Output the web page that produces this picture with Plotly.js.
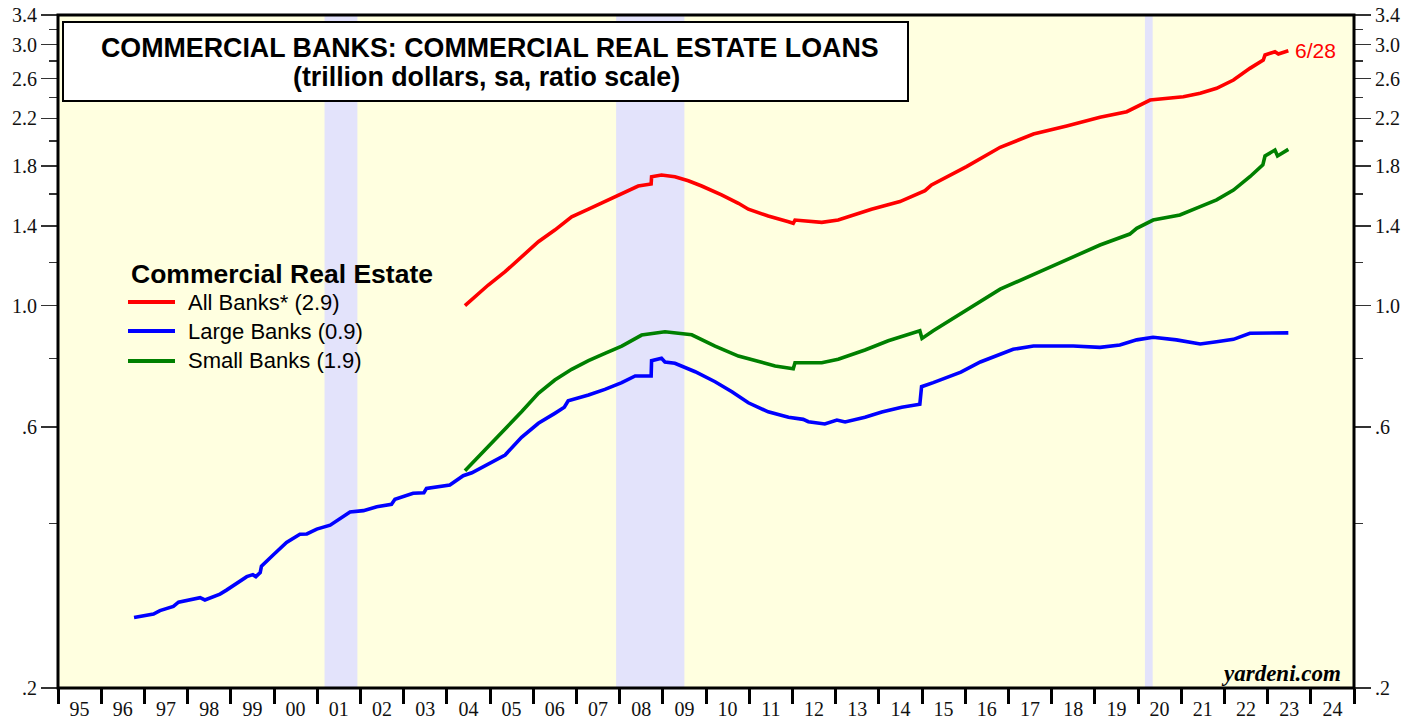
<!DOCTYPE html>
<html>
<head>
<meta charset="utf-8">
<script src="https://cdn.plot.ly/plotly-3.0.1.min.js"></script>
<style>
  html, body { margin: 0; padding: 0; background: #ffffff; }
  #chart { width: 1419px; height: 719px; }
</style>
</head>
<body>
<div id="chart"></div>
<script>
// ---- Data (trillion dollars) ----
const allBanksX = [2004.42,2004.96,2005.35,2005.73,2006.12,2006.50,2006.74,2006.89,2007.28,2007.66,2008.05,2008.43,2008.73,2008.74,2008.97,2009.28,2009.59,2009.90,2010.36,2010.75,2010.98,2011.44,2011.91,2012.02,2012.06,2012.68,2013.06,2013.83,2014.49,2015.07,2015.22,2016.03,2016.81,2017.58,2018.35,2019.12,2019.74,2020.28,2021.05,2021.44,2021.82,2022.21,2022.59,2022.90,2022.94,2023.17,2023.25,2023.48];
const allBanksY = [1.000,1.091,1.154,1.229,1.309,1.375,1.424,1.454,1.501,1.549,1.605,1.655,1.669,1.721,1.734,1.721,1.692,1.655,1.594,1.539,1.501,1.459,1.424,1.415,1.434,1.420,1.434,1.501,1.550,1.623,1.663,1.796,1.948,2.060,2.131,2.211,2.263,2.377,2.410,2.445,2.497,2.586,2.716,2.813,2.873,2.913,2.885,2.925];

const largeBanksX = [1996.76,1997.00,1997.21,1997.36,1997.67,1997.79,1998.29,1998.40,1998.75,1998.90,1999.14,1999.37,1999.51,1999.58,1999.68,1999.71,1999.98,2000.29,2000.60,2000.76,2000.99,2001.30,2001.76,2002.07,2002.38,2002.72,2002.80,2003.22,2003.47,2003.53,2004.07,2004.38,2004.58,2004.96,2005.35,2005.73,2006.12,2006.50,2006.72,2006.81,2007.28,2007.66,2008.05,2008.36,2008.73,2008.74,2008.97,2009.05,2009.28,2009.75,2010.21,2010.60,2010.98,2011.44,2011.91,2012.25,2012.37,2012.75,2013.03,2013.22,2013.68,2014.07,2014.53,2014.95,2014.99,2015.26,2015.90,2016.35,2016.80,2017.11,2017.58,2018.50,2019.12,2019.58,2019.97,2020.35,2020.89,2021.44,2021.82,2022.21,2022.59,2022.98,2023.48];
const largeBanksY = [0.269,0.271,0.273,0.277,0.282,0.287,0.2925,0.2897,0.297,0.302,0.3116,0.3196,0.3223,0.3196,0.325,0.334,0.350,0.369,0.382,0.3825,0.3904,0.397,0.4196,0.422,0.429,0.4334,0.4426,0.4539,0.455,0.4635,0.470,0.4889,0.495,0.5136,0.5334,0.5745,0.6095,0.6356,0.652,0.6703,0.6866,0.7032,0.7232,0.744,0.744,0.7934,0.8014,0.7889,0.7846,0.7573,0.726,0.696,0.6645,0.6397,0.625,0.6197,0.6136,0.6077,0.618,0.6128,0.625,0.6391,0.652,0.6603,0.7111,0.7232,0.756,0.789,0.813,0.8323,0.8438,0.8438,0.839,0.8475,0.866,0.8754,0.866,0.851,0.8593,0.868,0.8902,0.892,0.892];

const smallBanksX = [2004.42,2004.96,2005.35,2005.73,2006.12,2006.50,2006.89,2007.28,2007.66,2008.05,2008.51,2009.05,2009.67,2010.21,2010.75,2011.13,2011.60,2012.02,2012.06,2012.68,2013.06,2013.68,2014.22,2014.95,2015.00,2015.26,2016.03,2016.81,2017.73,2018.35,2019.12,2019.81,2019.97,2020.35,2020.97,2021.44,2021.82,2022.21,2022.59,2022.89,2022.94,2023.17,2023.23,2023.48];
const smallBanksY = [0.4993,0.5525,0.5969,0.6397,0.6915,0.7313,0.765,0.7934,0.8183,0.8438,0.8837,0.896,0.8848,0.8438,0.8088,0.7934,0.7759,0.767,0.7866,0.7866,0.7981,0.8297,0.8628,0.900,0.8715,0.9001,0.982,1.072,1.154,1.212,1.291,1.352,1.385,1.434,1.465,1.517,1.561,1.627,1.721,1.809,1.878,1.926,1.878,1.931];

const seriesNames = ["All Banks* (2.9)", "Large Banks (0.9)", "Small Banks (1.9)"];
const seriesColors = ["#ff0000", "#0000ff", "#008000"];

// Recessions (start, end) in decimal years
const recessionStart = [2001.17, 2007.92, 2020.16];
const recessionEnd   = [2001.93, 2009.50, 2020.34];

// Axis ticks
const yTickVals = [0.2, 0.6, 1.0, 1.4, 1.8, 2.2, 2.6, 3.0, 3.4];
const yTickText = [".2", ".6", "1.0", "1.4", "1.8", "2.2", "2.6", "3.0", "3.4"];
const yMinorVals = [0.4, 0.8, 1.2, 1.6, 2.0, 2.4, 2.8, 3.2];
const yearLabels = ["95","96","97","98","99","00","01","02","03","04","05","06","07","08","09","10","11","12","13","14","15","16","17","18","19","20","21","22","23","24"];
const firstYear = 1995;

const lastDateLabel = "6/28";
const titleLine1 = "COMMERCIAL BANKS: COMMERCIAL REAL ESTATE LOANS";
const titleLine2 = "(trillion dollars, sa, ratio scale)";
const legendTitle = "Commercial Real Estate";
const sourceText = "yardeni.com";

// ---- Build ----
const xLabelVals = yearLabels.map((_, i) => firstYear + i + 0.5);
const xMinorVals = yearLabels.map((_, i) => firstYear + i).concat([firstYear + yearLabels.length]);
const seriesX = [allBanksX, largeBanksX, smallBanksX];
const seriesY = [allBanksY, largeBanksY, smallBanksY];

const lineW = 3.6;
const traces = seriesNames.map((n, i) => ({
  x: seriesX[i], y: seriesY[i], name: n, mode: 'lines', line: {color: seriesColors[i], width: lineW}, showlegend: false
}));
// same series referenced on the right-hand axis (invisible) so that axis is drawn
traces.push({x: allBanksX, y: allBanksY, yaxis: 'y2', mode: 'lines', showlegend: false, hoverinfo: 'skip', line: {color: 'rgba(0,0,0,0)', width: 0}});

const yRange = [Math.log10(0.2), Math.log10(3.4)];
const tickFont = {family: 'Liberation Serif, Times New Roman, serif', size: 20, color: '#111'};
const sans = 'Liberation Sans, Arial, sans-serif';

const yAxisCommon = {
  type: 'log', range: yRange, tickmode: 'array', tickvals: yTickVals, ticktext: yTickText,
  ticks: 'outside', ticklen: 16, tickwidth: 1.5, tickcolor: '#333',
  minor: {tickmode: 'array', tickvals: yMinorVals, ticks: 'outside', ticklen: 8, tickwidth: 1.5, tickcolor: '#333', showgrid: false},
  showgrid: false, zeroline: false, showline: false, tickfont: tickFont, fixedrange: true
};

// pixel helpers for paper coordinates (plot area 58..1354 x 15..688)
const px = x => (x - 58) / 1296;
const py = y => (688 - y) / 673;

const shapes = [];
for (let i = 0; i < recessionStart.length; i++) {
  shapes.push({type: 'rect', xref: 'x', yref: 'paper', x0: recessionStart[i], x1: recessionEnd[i], y0: 0, y1: 1,
    fillcolor: '#e3e3fb', line: {width: 0}, layer: 'below'});
}
// frame
shapes.push({type: 'rect', xref: 'paper', yref: 'paper', x0: 0, x1: 1, y0: 0, y1: 1, line: {color: '#000', width: 3}, fillcolor: 'rgba(0,0,0,0)', layer: 'above'});
// title box
shapes.push({type: 'rect', xref: 'paper', yref: 'paper', x0: px(63), x1: px(908), y0: py(101), y1: py(22), line: {color: '#000', width: 2}, fillcolor: '#ffffff', layer: 'above'});

const annotations = [
  {xref: 'paper', yref: 'paper', x: px(490), y: py(48), xanchor: 'center', yanchor: 'middle', showarrow: false,
   text: '<b>' + titleLine1 + '</b>', font: {family: sans, size: 26.8, color: '#000'}},
  {xref: 'paper', yref: 'paper', x: px(486), y: py(77), xanchor: 'center', yanchor: 'middle', showarrow: false,
   text: '<b>' + titleLine2 + '</b>', font: {family: sans, size: 26.8, color: '#000'}},
  {xref: 'x', yref: 'y', x: allBanksX[allBanksX.length - 1], y: Math.log10(allBanksY[allBanksY.length - 1]), xanchor: 'left', yanchor: 'middle', xshift: 5, showarrow: false,
   text: lastDateLabel, font: {family: sans, size: 21, color: '#ff0000'}},
  {xref: 'paper', yref: 'paper', x: px(1343), y: py(673), xanchor: 'right', yanchor: 'middle', showarrow: false,
   text: '<b><i>' + sourceText + '</i></b>', font: {family: 'Liberation Serif, Times New Roman, serif', size: 23, color: '#000'}},
  // legend title
  {xref: 'paper', yref: 'paper', x: px(129), y: py(274), xanchor: 'left', yanchor: 'middle', showarrow: false,
   text: '<b>' + legendTitle + '</b>', font: {family: sans, size: 26.5, color: '#000'}}
];

// legend entries
const legendRowY = [302, 331, 361];
seriesNames.forEach((n, i) => {
  shapes.push({type: 'line', xref: 'paper', yref: 'paper', x0: px(128), x1: px(175), y0: py(legendRowY[i]), y1: py(legendRowY[i]),
    line: {color: seriesColors[i], width: 4}, layer: 'above'});
  annotations.push({xref: 'paper', yref: 'paper', x: px(186), y: py(legendRowY[i]), xanchor: 'left', yanchor: 'middle', showarrow: false,
    text: n, font: {family: sans, size: 22, color: '#000'}});
});

const layout = {
  width: 1419, height: 719,
  margin: {l: 58, r: 65, t: 15, b: 31, pad: 0},
  paper_bgcolor: '#ffffff', plot_bgcolor: '#ffffe0',
  showlegend: false,
  xaxis: {
    type: 'linear', range: [firstYear, firstYear + yearLabels.length], tickmode: 'array', tickvals: xLabelVals, ticktext: yearLabels,
    ticks: '', ticklabelstandoff: 7, showgrid: false, zeroline: false, showline: false, tickfont: tickFont, fixedrange: true,
    minor: {tickmode: 'array', tickvals: xMinorVals, ticks: 'outside', ticklen: 15, tickwidth: 3, tickcolor: '#000', showgrid: false}
  },
  yaxis: Object.assign({side: 'left'}, yAxisCommon),
  yaxis2: Object.assign({side: 'right', overlaying: 'y'}, yAxisCommon),
  shapes: shapes,
  annotations: annotations
};

Plotly.newPlot('chart', traces, layout, {displayModeBar: false, staticPlot: true});
</script>
</body>
</html>
